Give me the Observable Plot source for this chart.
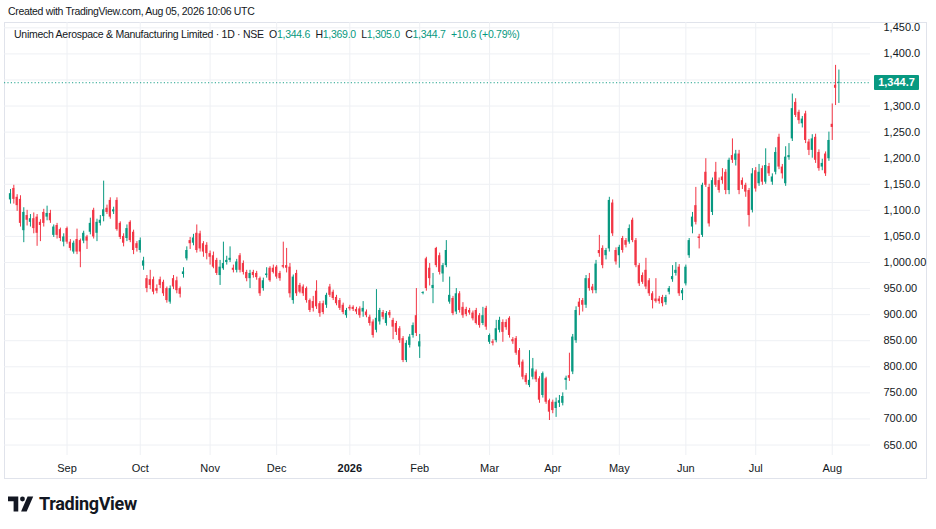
<!DOCTYPE html>
<html>
<head>
<meta charset="utf-8">
<script src="https://cdn.jsdelivr.net/npm/d3@7"></script>
<script src="https://cdn.jsdelivr.net/npm/@observablehq/plot@0.6"></script>
<style>
  html, body { margin: 0; padding: 0; background: #ffffff; }
  #root { position: relative; width: 936px; height: 529px; background: #ffffff; overflow: hidden;
          font-family: "Liberation Sans", Arial, sans-serif; color: #131722; }
  #header { position: absolute; left: 8px; top: 5px; font-size: 10.5px; letter-spacing: -0.32px; white-space: nowrap; }
  #pane { position: absolute; left: 4px; top: 22px; width: 923px; height: 457px; box-sizing: border-box;
          border: 1px solid #e0e3eb; }
  #chart { position: absolute; left: 4px; top: 22px; }
  #legend { position: absolute; left: 14px; top: 28px; font-size: 10.5px; letter-spacing: -0.27px; white-space: nowrap; }
  #legend .v { color: #089981; }
  #pricebox { position: absolute; left: 874px; width: 45px; height: 15px; line-height: 15px; background: #089981;
              color: #ffffff; font-size: 11px; font-weight: bold; text-align: center; border-radius: 1px; }
  #logo { position: absolute; left: 8px; top: 493px; display: flex; align-items: center; }
  #logo span { font-size: 18px; font-weight: bold; color: #131722; margin-left: 3px; letter-spacing: -0.3px;
               font-family: "Roboto", "Liberation Sans", sans-serif; }
</style>
</head>
<body>
<div id="root">
  <div id="header">Created with TradingView.com, Aug 05, 2026 10:06 UTC</div>
  <div id="pane"></div>
  <div id="chart"></div>
  <div id="legend"></div>
  <div id="pricebox"></div>
  <div id="logo">
    <svg width="28" height="18" viewBox="0 0 30 18">
      <path d="M0 1 H11 V17 H6 V6 H0 Z" fill="#131722"/>
      <circle cx="15.5" cy="3.6" r="2.6" fill="#131722"/>
      <path d="M21 1 H27 L20 17 H14 Z" fill="#131722"/>
    </svg>
    <span>TradingView</span>
  </div>
</div>
<script>
// ---- Data (daily candles) ----
const opens = [
1120,1142,1125,1121,1061,1090,1077,1084,1087,1077,1096,1087,1094,1052,1071,1063,1039,1065,1039,1020,
1044,1042,1041,1049,1058,1100,1056,1075,1088,1104,1119,1097,1119,1075,1050,1046,1077,1058,1036,1023,
993,969,967,967,950,967,962,950,924,969,965,950,977,1007,1042,1037,1056,1055,1036,1033,
1017,1013,1004,975,988,1000,1004,989,985,1013,998,981,969,981,979,969,950,975,989,989,
991,979,994,994,991,927,979,956,953,950,927,925,945,921,921,918,953,943,933,927,
918,898,914,914,910,911,905,905,895,886,870,886,904,883,904,889,883,873,854,812,
841,860,898,838,941,1007,989,950,1027,1013,978,994,924,931,905,940,914,910,908,903,
908,898,883,912,847,848,850,870,885,885,893,852,854,831,809,783,764,780,790,777,
745,777,735,732,720,730,730,774,783,790,850,924,927,918,969,953,946,1023,1027,1013,
1026,1114,1023,1013,1046,1042,1039,1081,1042,994,975,985,965,940,930,930,933,923,943,967,
979,991,940,959,1013,1068,1109,1049,1052,1173,1144,1096,1173,1157,1164,1173,1138,1205,1196,1208,
1157,1148,1138,1100,1176,1151,1180,1154,1184,1154,1173,1240,1183,1151,1201,1237,1307,1288,1266,1285,
1231,1215,1240,1211,1183,1208,1199,1265,1340,1344.6
];
const highs = [
1140,1148,1130,1128,1105,1100,1092,1095,1092,1082,1102,1108,1100,1072,1075,1066,1055,1068,1044,1041,
1064,1045,1060,1052,1085,1104,1083,1090,1156,1110,1124,1106,1124,1078,1055,1072,1080,1062,1040,1047,
1010,975,985,972,957,972,966,953,955,975,972,953,990,1030,1048,1054,1072,1060,1040,1038,
1022,1020,1008,1004,1039,1012,1030,995,1006,1017,1003,985,985,985,983,972,970,990,992,995,
994,983,1039,1027,998,976,985,960,957,953,930,935,965,925,926,941,958,947,937,931,
922,912,918,917,914,915,925,909,899,890,948,912,908,906,908,893,887,877,858,850,
862,884,950,862,944,1010,998,979,1029,1018,998,1042,972,935,950,944,923,914,912,907,
912,902,914,916,863,852,889,895,890,890,896,856,858,835,813,787,831,816,794,781,
790,780,738,736,740,745,750,782,826,862,915,931,931,975,979,958,1004,1052,1032,1027,
1125,1120,1028,1033,1050,1046,1072,1085,1046,998,980,1008,969,944,969,935,937,937,954,994,
1000,996,950,995,1046,1096,1144,1054,1152,1199,1150,1162,1192,1162,1180,1178,1200,1237,1215,1215,
1162,1152,1142,1180,1182,1188,1185,1218,1190,1170,1220,1246,1188,1222,1228,1323,1314,1292,1280,1290,
1236,1245,1246,1216,1198,1212,1250,1304,1378,1369.0
];
const lows = [
1112,1112,1098,1068,1038,1070,1068,1055,1031,1040,1068,1080,1075,1048,1045,1040,1030,1035,1022,1016,
1015,990,1036,1025,1053,1045,1040,1070,1078,1092,1083,1092,1060,1044,1030,1040,1038,1015,1020,1018,
985,942,948,938,940,950,935,922,920,948,940,932,970,1003,1025,1032,1018,1020,1010,1005,
995,988,975,956,985,995,1000,980,980,980,976,963,950,970,966,935,945,970,962,978,
968,964,988,980,932,920,935,940,935,922,904,905,910,895,900,912,933,927,917,908,
900,893,907,906,900,893,895,894,878,855,865,880,890,878,893,852,860,845,808,808,
836,855,858,816,938,945,955,921,990,976,962,990,920,898,900,903,893,896,899,888,
880,874,879,870,843,840,846,865,847,870,855,843,822,798,775,765,760,775,770,730,
740,728,697,710,703,722,725,755,772,785,845,898,905,912,945,940,940,1010,988,1005,
1020,1050,995,989,1018,1028,1035,1038,990,954,958,948,935,911,922,920,915,918,938,962,
974,935,927,955,1008,1055,1072,1026,1048,1144,1068,1090,1144,1133,1150,1130,1130,1190,1185,1130,
1140,1125,1068,1095,1135,1146,1148,1150,1165,1148,1168,1178,1160,1146,1196,1232,1278,1265,1258,1228,
1205,1200,1190,1175,1176,1165,1194,1234,1301,1305.0
];
const closes = [
1132,1121,1109,1075,1096,1081,1084,1065,1056,1071,1075,1094,1080,1068,1052,1046,1049,1039,1027,1037,
1020,1020,1056,1041,1075,1049,1077,1081,1101,1096,1087,1101,1063,1048,1037,1065,1042,1023,1027,1042,
1003,950,956,943,945,956,940,927,950,953,946,939,982,1023,1036,1047,1023,1026,1020,1017,
1010,991,979,991,998,1004,1008,985,1001,985,981,969,979,975,971,940,965,978,965,981,
972,969,991,989,940,972,940,943,940,927,908,912,915,902,904,937,937,931,921,912,
904,908,911,910,905,898,912,898,883,860,893,908,895,902,898,876,866,850,812,845,
857,879,864,848,942,950,969,956,994,981,994,1023,937,902,940,908,898,900,903,892,
883,879,898,876,860,845,873,889,866,875,860,848,826,803,780,770,774,796,775,736,
787,732,713,716,732,735,743,778,778,857,908,914,918,969,950,946,997,1017,994,1023,
1119,1055,1001,1029,1023,1033,1065,1042,994,959,962,953,940,927,925,925,921,933,950,973,
985,940,946,991,1042,1087,1077,1046,1148,1148,1074,1157,1148,1138,1157,1138,1196,1196,1208,1138,
1148,1135,1090,1170,1141,1173,1154,1186,1170,1164,1211,1183,1170,1202,1205,1295,1282,1272,1275,1234,
1215,1237,1196,1180,1190,1170,1234,1259,1334.1,1344.7
];

// month labels on the time axis (index of the first bar of each month)
const monthTickIndex = [17, 39, 60, 80, 102, 123, 144, 163, 183, 203, 224, 247];
const monthTickLabel = ["Sep", "Oct", "Nov", "Dec", "2026", "Feb", "Mar", "Apr", "May", "Jun", "Jul", "Aug"];
const yearTickIndex = [102];

// price axis (the 1,350 label is hidden by the last-price label)
const yTickValues = [650, 700, 750, 800, 850, 900, 950, 1000, 1050, 1100, 1150, 1200, 1250, 1300, 1350, 1400, 1450];
const yTickLabelValues = [650, 700, 750, 800, 850, 900, 950, 1000, 1050, 1100, 1150, 1200, 1250, 1300, 1400, 1450];
const yTickLabels = ["650.00", "700.00", "750.00", "800.00", "850.00", "900.00", "950.00", "1,000.00",
  "1,050.0", "1,100.0", "1,150.0", "1,200.0", "1,250.0", "1,300.0", "1,400.0", "1,450.0"];

const symbolName = "Unimech Aerospace & Manufacturing Limited · 1D · NSE";
const lastChange = 10.6;
const lastChangePct = 0.79;

// ---- Build ----
const UP = "#089981", DOWN = "#f23645";
const candles = opens.map((o, i) => ({ i, o, h: highs[i], l: lows[i], c: closes[i] }));
const last = candles[candles.length - 1];
const fmt = d3.format(",.1f");
const tickLabelOf = v => yTickLabels[yTickLabelValues.indexOf(v)];
const monthLabelOf = i => monthTickLabel[monthTickIndex.indexOf(i)];
const bodyLo = d => { const lo = Math.min(d.o, d.c), hi = Math.max(d.o, d.c); const pad = Math.max(0, (1.8 - (hi - lo)) / 2); return lo - pad; };
const bodyHi = d => { const lo = Math.min(d.o, d.c), hi = Math.max(d.o, d.c); const pad = Math.max(0, (1.8 - (hi - lo)) / 2); return hi + pad; };
const colorOf = d => d.c >= d.o ? UP : DOWN;

const chart = Plot.plot({
  width: 923,
  height: 457,
  marginLeft: 0,
  marginRight: 57,
  marginTop: 0,
  marginBottom: 24,
  x: { type: "linear", domain: [-1.8, 258.5], axis: null, label: null },
  y: { type: "linear", domain: [629.9, 1460.2], axis: null, label: null },
  style: { background: "transparent", fontFamily: "Liberation Sans, Arial, sans-serif", fontSize: "11px", color: "#131722", overflow: "visible" },
  marks: [
    Plot.gridY(yTickValues, { stroke: "#eef0f4", strokeOpacity: 1 }),
    Plot.gridX(monthTickIndex, { stroke: "#eef0f4", strokeOpacity: 1 }),
    Plot.ruleY([last.c], { stroke: UP, strokeDasharray: "1.2,2.2", strokeOpacity: 0.9 }),
    Plot.ruleX(candles, { x: "i", y1: "l", y2: "h", stroke: colorOf, strokeWidth: 1 }),
    Plot.rect(candles, { x1: d => d.i - 0.33, x2: d => d.i + 0.33, y1: bodyLo, y2: bodyHi, fill: colorOf }),
    Plot.axisY(yTickLabelValues, { anchor: "right", label: null, tickSize: 0, tickPadding: 13, tickFormat: tickLabelOf, textAnchor: "start", fill: "#131722", fontSize: 11 }),
    Plot.axisX(monthTickIndex.filter(i => !yearTickIndex.includes(i)), { anchor: "bottom", label: null, tickSize: 0, tickPadding: 9, tickFormat: monthLabelOf, fill: "#131722", fontSize: 11 }),
    Plot.axisX(yearTickIndex, { anchor: "bottom", label: null, tickSize: 0, tickPadding: 9, tickFormat: monthLabelOf, fill: "#131722", fontSize: 11, fontWeight: "bold" })
  ]
});
document.getElementById("chart").appendChild(chart);

// legend
const sign = lastChange >= 0 ? "+" : "";
document.getElementById("legend").innerHTML =
  symbolName + " &nbsp;O<span class='v'>" + fmt(last.o) + "</span>&nbsp; H<span class='v'>" + fmt(last.h) +
  "</span>&nbsp; L<span class='v'>" + fmt(last.l) + "</span>&nbsp; C<span class='v'>" + fmt(last.c) +
  "</span>&nbsp; <span class='v'>" + sign + lastChange.toFixed(1) + " (" + sign + lastChangePct.toFixed(2) + "%)</span>";

// last price label on the price axis
const pb = document.getElementById("pricebox");
pb.textContent = fmt(last.c);
pb.style.top = (22 + chart.scale("y").apply(last.c) - 7.5) + "px";
</script>
</body>
</html>
